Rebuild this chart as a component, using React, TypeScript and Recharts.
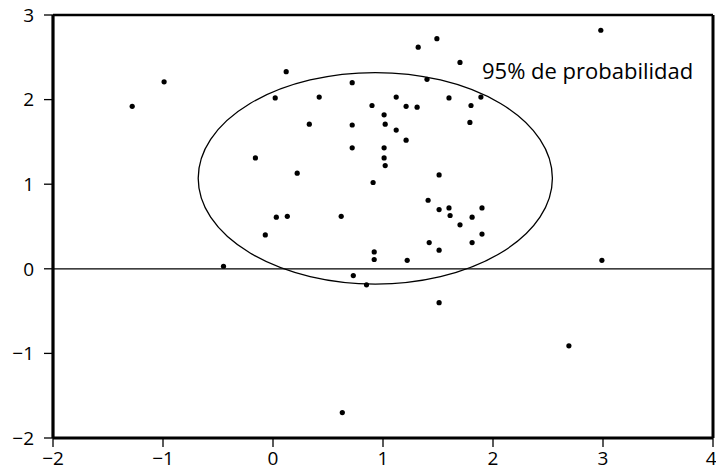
import React from "react";
import {
  ScatterChart,
  Scatter,
  XAxis,
  YAxis,
  ReferenceLine,
  ReferenceArea,
  ReferenceDot,
} from "recharts";

const xValues = [
  -1.28, -0.99, 0.12, 0.02, 0.42, 0.72, 0.33, 0.72, 0.72, -0.16,
  0.22, 0.03, 0.13, 0.62, -0.07, -0.45, 0.73, 0.63, 1.42, 1.51,
  1.81, 0.92, 0.92, 1.22, 0.85, 1.51, 2.69, 2.99, 2.98, 1.32,
  1.49, 1.7, 1.4, 1.12, 1.21, 1.31, 0.9, 1.6, 1.89, 1.8,
  1.79, 1.01, 1.02, 1.12, 1.21, 1.01, 1.01, 1.02, 0.91, 1.51,
  1.41, 1.51, 1.6, 1.61, 1.7, 1.81, 1.9, 1.9,
];
const yValues = [
  1.92, 2.21, 2.33, 2.02, 2.03, 2.2, 1.71, 1.7, 1.43, 1.31,
  1.13, 0.61, 0.62, 0.62, 0.4, 0.03, -0.08, -1.7, 0.31, 0.22,
  0.31, 0.2, 0.11, 0.1, -0.19, -0.4, -0.91, 0.1, 2.82, 2.62,
  2.72, 2.44, 2.24, 2.03, 1.92, 1.91, 1.93, 2.02, 2.03, 1.93,
  1.73, 1.82, 1.71, 1.64, 1.52, 1.43, 1.31, 1.22, 1.02, 1.11,
  0.81, 0.7, 0.72, 0.63, 0.52, 0.61, 0.72, 0.41,
];

const xTicks = [-2, -1, 0, 1, 2, 3, 4];
const yTicks = [-2, -1, 0, 1, 2, 3];

// 95% probability ellipse: centre and semi-axes (data units)
const ellipseCenter = [0.93, 1.07];
const ellipseRadii = [1.61, 1.25];
const ellipseLabel = "95% de probabilidad";
const labelPos = [1.9, 2.24];

const points = xValues.map((x, i) => ({ x, y: yValues[i] }));

const FONT = "'Open Sans', sans-serif";

const fmt = (v: number) => (v < 0 ? `\u2212${Math.abs(v)}` : `${v}`);

export default function App() {
  return (
    <div style={{ position: "absolute", left: 0, top: 0, background: "#fff" }}>
      <ScatterChart
        width={716}
        height={472}
        margin={{ top: 15, right: 3, bottom: 0, left: 0 }}
        style={{ fontFamily: FONT }}
      >
        <XAxis
          type="number"
          dataKey="x"
          domain={[-2, 4]}
          ticks={xTicks}
          allowDataOverflow
          height={34}
          tickSize={9}
          tickMargin={5}
          tickFormatter={fmt}
          tick={{ fill: "#000", fontSize: 19 }}
          axisLine={false}
          tickLine={{ stroke: "#000", strokeWidth: 1.3 }}
        />
        <YAxis
          type="number"
          dataKey="y"
          domain={[-2, 3]}
          ticks={yTicks}
          allowDataOverflow
          width={53}
          tickSize={9}
          tickMargin={10}
          tickFormatter={fmt}
          tick={{ fill: "#000", fontSize: 19 }}
          axisLine={false}
          tickLine={{ stroke: "#000", strokeWidth: 1.3 }}
        />
        <ReferenceLine y={0} stroke="#000" strokeWidth={1.2} />
        <ReferenceArea
          x1={ellipseCenter[0] - ellipseRadii[0]}
          x2={ellipseCenter[0] + ellipseRadii[0]}
          y1={ellipseCenter[1] - ellipseRadii[1]}
          y2={ellipseCenter[1] + ellipseRadii[1]}
          ifOverflow="visible"
          shape={(p: any) => (
            <ellipse
              cx={p.x + p.width / 2}
              cy={p.y + p.height / 2}
              rx={Math.abs(p.width) / 2}
              ry={Math.abs(p.height) / 2}
              fill="none"
              stroke="#000"
              strokeWidth={1.3}
            />
          )}
        />
        {/* frame */}
        <ReferenceLine x={-2} stroke="#000" strokeWidth={3.2} ifOverflow="visible" />
        <ReferenceLine x={4} stroke="#000" strokeWidth={3} ifOverflow="visible" />
        <ReferenceLine y={3} stroke="#000" strokeWidth={2.6} ifOverflow="visible" />
        <ReferenceLine y={-2} stroke="#000" strokeWidth={3} ifOverflow="visible" />
        <ReferenceDot
          x={labelPos[0]}
          y={labelPos[1]}
          r={0}
          ifOverflow="visible"
          shape={(p: any) => (
            <text x={p.cx} y={p.cy} fontSize={22} fill="#000" fontFamily={FONT}>
              {ellipseLabel}
            </text>
          )}
        />
        <Scatter
          data={points}
          isAnimationActive={false}
          shape={(p: any) => <circle cx={p.cx} cy={p.cy} r={2.6} fill="#000" />}
        />
      </ScatterChart>
    </div>
  );
}
